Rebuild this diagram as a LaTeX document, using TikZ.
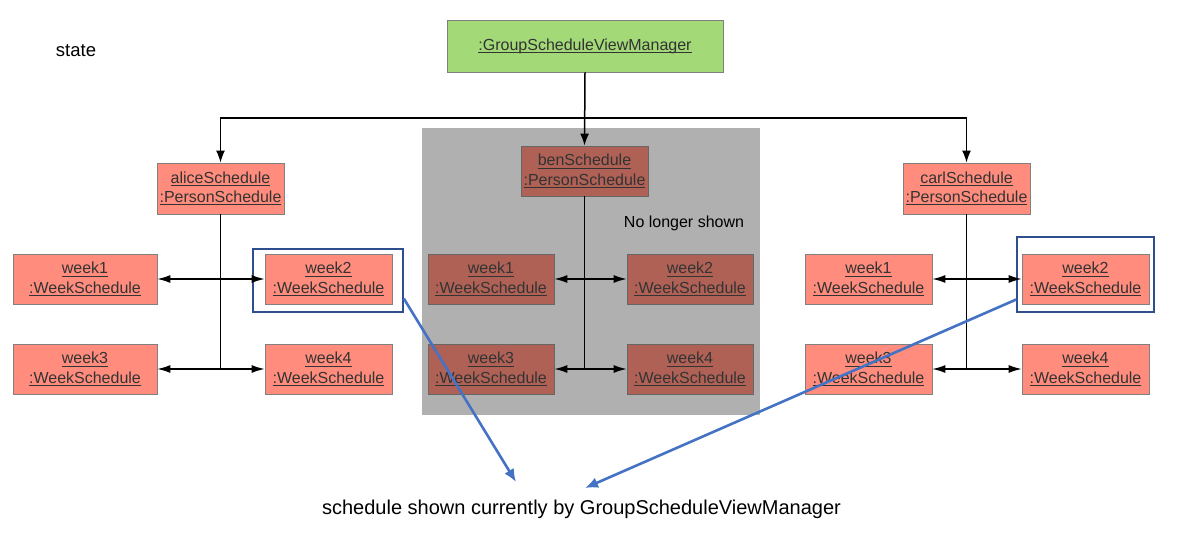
\documentclass[tikz,border=0pt]{standalone}
\usepackage{fontspec}
\setmainfont{Liberation Sans}
\usetikzlibrary{arrows.meta,calc}
\definecolor{salmon}{HTML}{FF8C7C}
\definecolor{darksalmon}{HTML}{B06155}
\definecolor{shade}{HTML}{B0B0B0}
\definecolor{greenbox}{HTML}{A3D977}
\definecolor{txt}{HTML}{333333}
\definecolor{hlblue}{HTML}{2E4E8E}
\definecolor{arrblue}{HTML}{4472C4}
\newcommand\myul[1]{\setbox0=\hbox{#1}\rlap{\rule[-2.6pt]{\wd0}{0.9pt}}\box0}
\tikzset{
  obj/.style={draw=black!50, line width=0.8pt, fill=salmon, minimum height=50, inner sep=0pt,
    align=center, text=txt, font=\fontsize{16}{19.4}\selectfont},
  dobj/.style={obj, fill=darksalmon, draw=black!60},
  hl/.style={draw=hlblue, line width=1.6pt, inner sep=0pt, fill=none},
  ln/.style={line width=1.5pt, black},
  arr/.style={ln, -{Latex[length=12pt,width=9pt]}},
  dbl/.style={line width=1.3pt, black, {Latex[length=13pt,width=8pt]}-{Latex[length=13pt,width=8pt]}},
  blu/.style={line width=2.6pt, arrblue, -{Latex[length=13pt,width=11pt]}},
}
\begin{document}
\begin{tikzpicture}[x=1pt,y=-1pt]
\useasboundingbox (0,0) rectangle (1177,536);
% background shade
\node[fill=shade, minimum width=338, minimum height=287, inner sep=0pt] (shadebox) at (591,271.5) {};
% labels
\node[anchor=base, font=\fontsize{18.5}{22}\selectfont] (state) at (76,56.7) {state};
\node[anchor=base, font=\fontsize{16}{19}\selectfont] (nolonger) at (684,227) {No longer shown};
\node[anchor=base, font=\fontsize{20}{24}\selectfont] (caption) at (581.5,514) {schedule shown currently by GroupScheduleViewManager};
% manager
\node[obj, fill=greenbox, minimum width=276, minimum height=52] (gm) at (585,46) {\myul{:GroupScheduleViewManager}};
% persons
\node[obj, minimum width=127, minimum height=51] (alice) at (220.5,188.5) {\myul{aliceSchedule}\\\myul{:PersonSchedule}};
\node[dobj, minimum width=127] (ben) at (584.5,171) {\myul{benSchedule}\\\myul{:PersonSchedule}};
\node[obj, minimum width=127, minimum height=51] (carl) at (966.5,188.5) {\myul{carlSchedule}\\\myul{:PersonSchedule}};
% alice weeks
\node[obj, minimum width=144] (aw1) at (85,279) {\myul{week1}\\\myul{:WeekSchedule}};
\node[obj, minimum width=127] (aw2) at (328.5,279) {\myul{week2}\\\myul{:WeekSchedule}};
\node[obj, minimum width=144] (aw3) at (85,369) {\myul{week3}\\\myul{:WeekSchedule}};
\node[obj, minimum width=127] (aw4) at (328.5,369) {\myul{week4}\\\myul{:WeekSchedule}};
% ben weeks
\node[dobj, minimum width=126] (bw1) at (491,279) {\myul{week1}\\\myul{:WeekSchedule}};
\node[dobj, minimum width=126] (bw2) at (690,279) {\myul{week2}\\\myul{:WeekSchedule}};
\node[dobj, minimum width=126] (bw3) at (491,369) {\myul{week3}\\\myul{:WeekSchedule}};
\node[dobj, minimum width=126] (bw4) at (690,369) {\myul{week4}\\\myul{:WeekSchedule}};
% carl weeks
\node[obj, minimum width=127] (cw1) at (868.5,279) {\myul{week1}\\\myul{:WeekSchedule}};
\node[obj, minimum width=127] (cw2) at (1085.5,279) {\myul{week2}\\\myul{:WeekSchedule}};
\node[obj, minimum width=127] (cw3) at (868.5,369) {\myul{week3}\\\myul{:WeekSchedule}};
\node[obj, minimum width=127] (cw4) at (1085.5,369) {\myul{week4}\\\myul{:WeekSchedule}};
% highlights
\node[hl, minimum width=150, minimum height=63] (hlA) at (328,280.5) {};
\node[hl, minimum width=137, minimum height=75] (hlC) at (1085.5,274.5) {};
% connectors top
\coordinate (bus) at (584.5,118);
\draw[arr] (gm.south) -- (ben.north);
\draw[arr] (bus) -| (alice.north);
\draw[arr] (bus) -| (carl.north);
% junctions
\coordinate (aJ) at (220.5,369);
\coordinate (bJ) at (584.5,369);
\coordinate (cJ) at (966.5,369);
\draw[ln] (alice.south) -- (aJ);
\draw[ln] (ben.south) -- (bJ);
\draw[ln] (carl.south) -- (cJ);
\draw[dbl] (aw1.east) -- (aw2.west);
\draw[dbl] (aw3.east) -- (aw4.west);
\draw[dbl] (bw1.east) -- (bw2.west);
\draw[dbl] (bw3.east) -- (bw4.west);
\draw[dbl] (cw1.east) -- (cw2.west);
\draw[dbl] (cw3.east) -- (cw4.west);
% blue pointers
\coordinate (tA) at (516,482);
\coordinate (tC) at (585,488);
\draw[blu] ($(hlA.east)+(0,18)$) -- (tA);
\draw[blu] ($(hlC.west)+(0,25)$) -- (tC);
\end{tikzpicture}
\end{document}
